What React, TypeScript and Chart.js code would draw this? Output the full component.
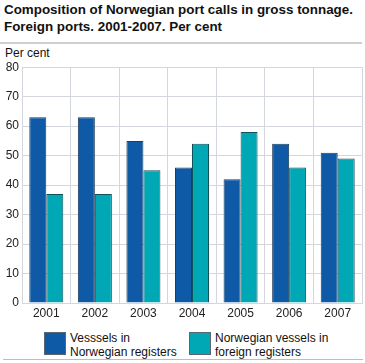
import React, { useEffect, useRef } from "react";
import { Chart, registerables } from "chart.js";

Chart.register(...registerables);

const categories = ["2001", "2002", "2003", "2004", "2005", "2006", "2007"];
const norwegianRegisters = [63, 63, 55, 46, 42, 54, 51];
const foreignRegisters = [37, 37, 45, 54, 58, 46, 49];
const seriesNames = [["Vesssels in", "Norwegian registers"], ["Norwegian vessels in", "foreign registers"]];
const colors = ["#0e5aa7", "#00a8b6"];
const borders = ["#1d3f5f", "#10515a"];

const FONT = "'Liberation Sans', Arial, Helvetica, sans-serif";

export default function App() {
  const ref = useRef<HTMLCanvasElement | null>(null);
  useEffect(() => {
    if (!ref.current) return;
    const chart = new Chart(ref.current, {
      type: "bar",
      data: {
        labels: categories,
        datasets: [
          { label: seriesNames[0].join(" "), data: norwegianRegisters, backgroundColor: colors[0], borderColor: borders[0], borderWidth: 1, categoryPercentage: 0.7, barPercentage: 1 },
          { label: seriesNames[1].join(" "), data: foreignRegisters, backgroundColor: colors[1], borderColor: borders[1], borderWidth: 1, categoryPercentage: 0.7, barPercentage: 1 },
        ],
      },
      options: {
        animation: false,
        responsive: false,
        maintainAspectRatio: false,
        layout: { padding: { top: 10, right: 3, left: 0, bottom: 0 } },
        plugins: { legend: { display: false }, title: { display: false }, tooltip: { enabled: false } },
        scales: {
          x: {
            grid: { color: "#d3d6dd", lineWidth: 1, offset: true, drawTicks: false },
            border: { color: "#d3d6dd" },
            ticks: { color: "#222", font: { family: FONT, size: 12 }, padding: 3 },
            afterFit: (s: any) => { s.height = 19; },
          },
          y: {
            min: 0,
            max: 80,
            grid: { color: "#d3d6dd", lineWidth: 1, drawTicks: false },
            border: { color: "#d3d6dd" },
            ticks: { stepSize: 10, color: "#222", font: { family: FONT, size: 12 }, padding: 3 },
            afterFit: (s: any) => { s.width = 22; },
          },
        },
      },
    });
    return () => chart.destroy();
  }, []);

  const box = (c: string) => ({
    position: "absolute" as const,
    width: 22,
    height: 23,
    background: c,
    border: `1px solid #5a6670`,
    boxSizing: "border-box" as const,
  });

  return (
    <div style={{ position: "fixed", left: 0, top: 0, width: 365, height: 363, background: "#fff", fontFamily: FONT, color: "#111" }}>
      <div style={{ position: "absolute", left: 4, top: 1, fontSize: 13.4, fontWeight: "bold", lineHeight: "17px", whiteSpace: "nowrap" }}>
        Composition of Norwegian port calls in gross tonnage.<br />Foreign ports. 2001-2007. Per cent
      </div>
      <div style={{ position: "absolute", left: 0, top: 42, width: 362, height: 2, background: "#cfcfcf" }} />
      <div style={{ position: "absolute", left: 5, top: 46, fontSize: 12, lineHeight: "14px" }}>Per cent</div>
      <canvas ref={ref} width={365} height={265} style={{ position: "absolute", left: 0, top: 57, width: 365, height: 265 }} />
      <div style={{ ...box(colors[0]), left: 44, top: 332 }} />
      <div style={{ position: "absolute", left: 70, top: 331, fontSize: 12, lineHeight: "14px" }}>
        {seriesNames[0][0]}<br />{seriesNames[0][1]}
      </div>
      <div style={{ ...box(colors[1]), left: 189, top: 332 }} />
      <div style={{ position: "absolute", left: 215, top: 331, fontSize: 12, lineHeight: "14px" }}>
        {seriesNames[1][0]}<br />{seriesNames[1][1]}
      </div>
      <div style={{ position: "absolute", left: 3, top: 359, width: 360, height: 1, background: "#bdbdbd" }} />
    </div>
  );
}
